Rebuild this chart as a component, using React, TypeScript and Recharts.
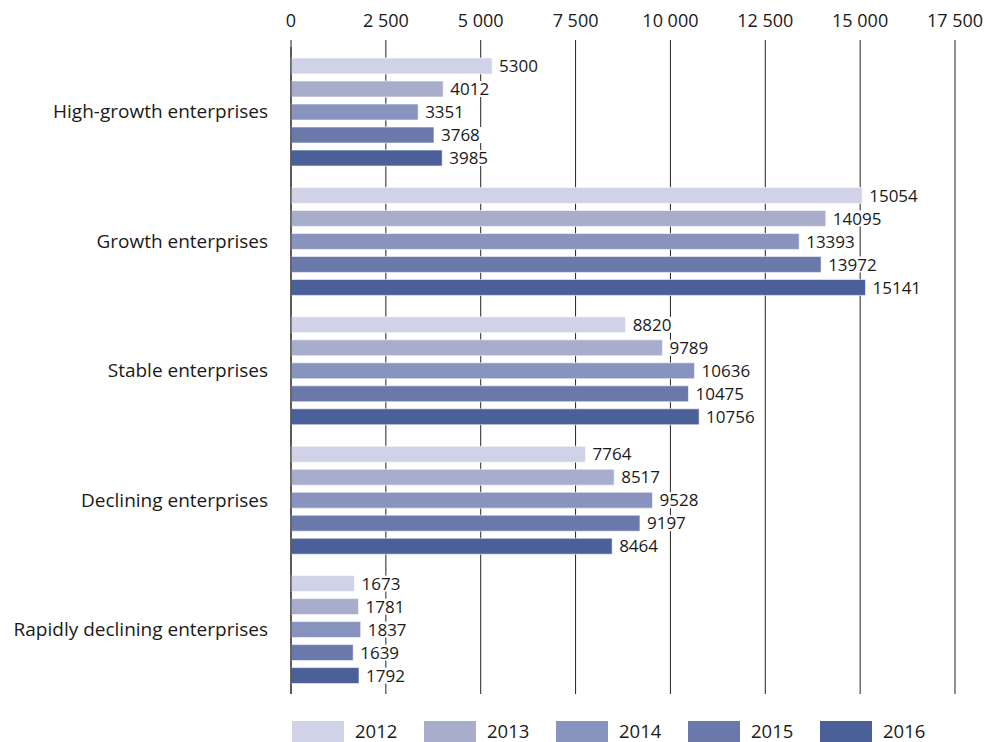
import React from "react";
import { BarChart, Bar, XAxis, YAxis, CartesianGrid, LabelList, Legend } from "recharts";

const categories = [
  "High-growth enterprises",
  "Growth enterprises",
  "Stable enterprises",
  "Declining enterprises",
  "Rapidly declining enterprises",
];
const years = ["2012", "2013", "2014", "2015", "2016"];
const v2012 = [5300, 15054, 8820, 7764, 1673];
const v2013 = [4012, 14095, 9789, 8517, 1781];
const v2014 = [3351, 13393, 10636, 9528, 1837];
const v2015 = [3768, 13972, 10475, 9197, 1639];
const v2016 = [3985, 15141, 10756, 8464, 1792];
const xTicks = [0, 2500, 5000, 7500, 10000, 12500, 15000, 17500];
const colors = ["#d0d3e7", "#a9adcc", "#8893be", "#6a79a9", "#4b6098"];

const seriesValues = [v2012, v2013, v2014, v2015, v2016];
const data = categories.map((c, i) => {
  const row: any = { name: c };
  years.forEach((y, k) => (row[y] = seriesValues[k][i]));
  return row;
});

const FONT = "'Open Sans', sans-serif";

const fmt = (v: number) => {
  const s = String(v);
  return s.length > 3 ? s.slice(0, s.length - 3) + " " + s.slice(s.length - 3) : s;
};

const ValueLabel = (props: any) => {
  const { x, y, width, height, value } = props;
  const tx = x + width + 7;
  const cy = y + height / 2;
  const text = String(value);
  const w = text.length * 10 + 4;
  return (
    <g>
      <rect x={tx - 2} y={cy - 8} width={w} height={16} fill="#fff" />
      <text x={tx} y={cy} dy="0.36em" fontSize={17} fontFamily={FONT} fill="#1a1a1a">
        {text}
      </text>
    </g>
  );
};

const LegendContent = () => (
  <div style={{ display: "flex", fontFamily: FONT, fontSize: 18.5, color: "#1a1a1a", lineHeight: "22px" }}>
    {years.map((y, i) => (
      <div key={y} style={{ display: "flex", alignItems: "center", width: 132 }}>
        <div style={{ width: 52, height: 21, background: colors[i], marginRight: 11 }} />
        <span>{y}</span>
      </div>
    ))}
  </div>
);

export default function App() {
  return (
    <div style={{ position: "absolute", left: 0, top: 0, width: 985, height: 742, background: "#fff" }}>
      <BarChart
        width={985}
        height={742}
        data={data}
        layout="vertical"
        margin={{ top: 0, right: 30, bottom: 26, left: 0 }}
        barSize={16}
        barGap={7}
      >
        <CartesianGrid horizontal={false} stroke="#222" strokeWidth={1} />
        <XAxis
          type="number"
          orientation="top"
          domain={[0, 17500]}
          ticks={xTicks}
          tickFormatter={fmt}
          height={47}
          axisLine={false}
          tickLine={{ stroke: "#222" }}
          tickSize={7}
          tickMargin={13}
          tick={{ fill: "#1a1a1a", fontSize: 18, fontFamily: FONT }}
          interval={0}
        />
        <YAxis
          type="category"
          dataKey="name"
          width={291}
          axisLine={{ stroke: "#222" }}
          tickLine={false}
          tickSize={0}
          tickMargin={23}
          tick={{ fill: "#1a1a1a", fontSize: 19, fontFamily: FONT }}
          interval={0}
        />
        {years.map((y, i) => (
          <Bar
            key={y}
            dataKey={y}
            fill={colors[i]}
            stroke="rgba(255,255,255,0.6)"
            strokeWidth={1}
            isAnimationActive={false}
          >
            <LabelList dataKey={y} content={ValueLabel} />
          </Bar>
        ))}
        <Legend
          content={LegendContent}
          wrapperStyle={{ position: "absolute", left: 292, top: 720, width: 680, height: 22 }}
        />
      </BarChart>
    </div>
  );
}
